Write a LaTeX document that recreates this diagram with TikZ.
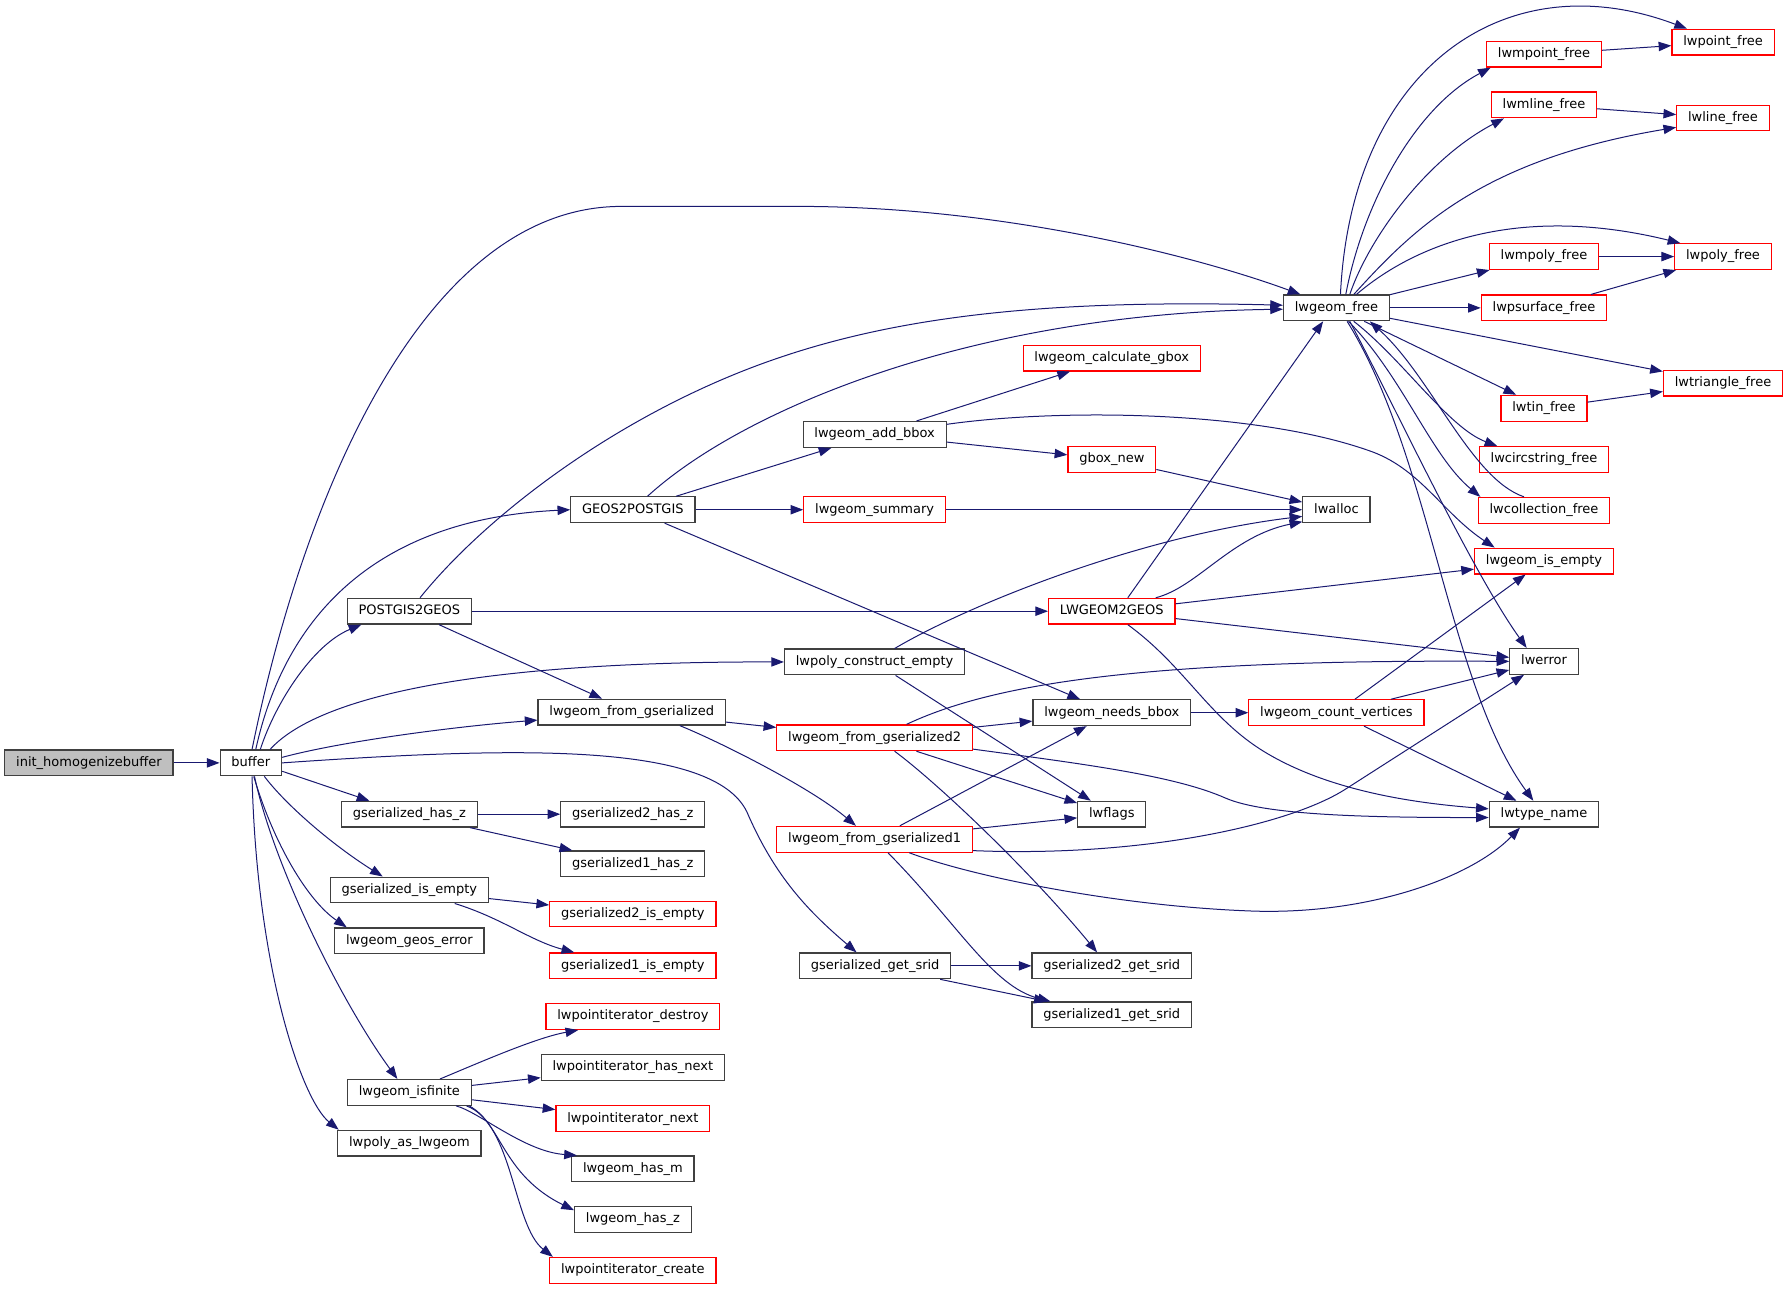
\documentclass[tikz,border=0pt]{standalone}
\usepackage{fontspec}
\setmainfont{DejaVu Sans}
\usetikzlibrary{arrows.meta}
\definecolor{callblue}{HTML}{191970}
\definecolor{boxgrey}{HTML}{404040}
\definecolor{boxred}{HTML}{FF0000}
\definecolor{rootfill}{HTML}{BFBFBF}
\begin{document}
\begin{tikzpicture}[x=0.8552pt,y=-0.8552pt,
    fn/.style={draw=boxgrey,line width=0.9pt,fill=white,inner xsep=8.5pt,inner ysep=0pt,minimum height=19.3pt,text height=7.3pt,text depth=2.2pt,font=\fontsize{9.75}{11}\selectfont},
    fnred/.style={fn,draw=boxred},
    fnroot/.style={fn,fill=rootfill},
    call/.style={draw=callblue,line width=0.75pt,-{Triangle[length=9.5pt,width=7pt]}}]
    \useasboundingbox (0,0) rectangle (1568,1130.4);
    \node[fnroot] (init) at (78,669) {init\_homogenizebuffer};
    \node[fn] (buffer) at (220,669) {buffer};
    \node[fn] (p2g) at (359,536) {POSTGIS2GEOS};
    \node[fn] (ghz) at (359,714) {gserialized\_has\_z};
    \node[fn] (gie) at (359,780.5) {gserialized\_is\_empty};
    \node[fn] (lge) at (359,825) {lwgeom\_geos\_error};
    \node[fn] (lif) at (359,958) {lwgeom\_isfinite};
    \node[fn] (lpal) at (359,1002.5) {lwpoly\_as\_lwgeom};
    \node[fn] (g2p) at (555,447) {GEOS2POSTGIS};
    \node[fn] (lfg) at (554,624.5) {lwgeom\_from\_gserialized};
    \node[fn] (g2hz) at (555,714) {gserialized2\_has\_z};
    \node[fn] (g1hz) at (555,757.5) {gserialized1\_has\_z};
    \node[fnred] (g2ie) at (555,801.5) {gserialized2\_is\_empty};
    \node[fnred] (g1ie) at (555,847) {gserialized1\_is\_empty};
    \node[fnred] (pid) at (555,891.5) {lwpointiterator\_destroy};
    \node[fn] (phn) at (555,936) {lwpointiterator\_has\_next};
    \node[fnred] (pn) at (555,981) {lwpointiterator\_next};
    \node[fn] (lhm) at (555,1025) {lwgeom\_has\_m};
    \node[fn] (lhz) at (555,1069.5) {lwgeom\_has\_z};
    \node[fnred] (pc) at (555,1114) {lwpointiterator\_create};
    \node[fn] (lab) at (767,381) {lwgeom\_add\_bbox};
    \node[fnred] (lsum) at (767,447) {lwgeom\_summary};
    \node[fn] (lpce) at (767,580.5) {lwpoly\_construct\_empty};
    \node[fnred] (lfg2) at (767,647) {lwgeom\_from\_gserialized2};
    \node[fnred] (lfg1) at (767,736) {lwgeom\_from\_gserialized1};
    \node[fn] (ggs) at (767.5,847) {gserialized\_get\_srid};
    \node[fnred] (lcg) at (975,314) {lwgeom\_calculate\_gbox};
    \node[fnred] (gbn) at (975,403) {gbox\_new};
    \node[fnred] (l2g) at (975,536) {LWGEOM2GEOS};
    \node[fn] (lnb) at (975,625) {lwgeom\_needs\_bbox};
    \node[fn] (lwf) at (975,714) {lwflags};
    \node[fn] (g2gs) at (975,847) {gserialized2\_get\_srid};
    \node[fn] (g1gs) at (975,890) {gserialized1\_get\_srid};
    \node[fn] (lfree) at (1172,270) {lwgeom\_free};
    \node[fn] (lalloc) at (1172,447) {lwalloc};
    \node[fnred] (lcv) at (1172,625) {lwgeom\_count\_vertices};
    \node[fnred] (mpf) at (1354,47.5) {lwmpoint\_free};
    \node[fnred] (mlf) at (1354,92) {lwmline\_free};
    \node[fnred] (mpyf) at (1354,225) {lwmpoly\_free};
    \node[fnred] (psf) at (1354,270) {lwpsurface\_free};
    \node[fnred] (tinf) at (1354,358) {lwtin\_free};
    \node[fnred] (csf) at (1354,403) {lwcircstring\_free};
    \node[fnred] (colf) at (1354,447.5) {lwcollection\_free};
    \node[fnred] (lie) at (1354,492) {lwgeom\_is\_empty};
    \node[fn] (lerr) at (1354,580) {lwerror};
    \node[fn] (ltn) at (1354,714) {lwtype\_name};
    \node[fnred] (ptf) at (1511,37) {lwpoint\_free};
    \node[fnred] (lnf) at (1511,103.5) {lwline\_free};
    \node[fnred] (pyf) at (1511,225) {lwpoly\_free};
    \node[fnred] (trf) at (1511,336) {lwtriangle\_free};
    \draw[call] (init) -- (buffer);
    \draw[call] (buffer.85) .. controls (265,440) and (370,181) .. (545,181) -- (700,181) .. controls (880,181) and (1050,225) .. ([xshift=-27pt]lfree.north);
    \draw[call] (buffer.70) .. controls (250,540) and (330,455) .. (g2p.west);
    \draw[call] (buffer.55) .. controls (242,615) and (275,565) .. ([xshift=-36pt]p2g.south);
    \draw[call] (buffer.35) .. controls (275,615) and (400,580) .. (lpce.west);
    \draw[call] (buffer.10) .. controls (300,650) and (400,637) .. ([yshift=-6pt]lfg.west);
    \draw[call] (buffer.east) .. controls (450,655) and (625,650) .. (655,712) .. controls (680,770) and (710,800) .. ([xshift=-14pt]ggs.north);
    \draw[call] (buffer.-15) -- ([xshift=-30pt]ghz.north);
    \draw[call] (buffer.-45) .. controls (250,705) and (290,740) .. ([xshift=-20pt]gie.north);
    \draw[call] (buffer.-78) .. controls (240,740) and (270,790) .. ([xshift=-47pt]lge.north);
    \draw[call] (buffer.-75) .. controls (240,760) and (300,880) .. ([xshift=-9pt]lif.north);
    \draw[call] (buffer.-85) .. controls (225,850) and (265,965) .. ([xshift=-53pt]lpal.north);
    \draw[call] ([xshift=8pt]p2g.north) .. controls (420,460) and (520,380) .. (640,330) .. controls (760,280) and (900,262) .. ([yshift=2pt]lfree.west);
    \draw[call] (p2g) -- (l2g);
    \draw[call] (p2g) -- (lfg);
    \draw[call] ([xshift=11pt]g2p.north) .. controls (650,360) and (850,275) .. ([yshift=-1pt]lfree.west);
    \draw[call] (g2p) -- (lab);
    \draw[call] (g2p) -- (lsum);
    \draw[call] (g2p) -- (lnb);
    \draw[call] (lab) -- (lcg);
    \draw[call] (lab) -- (gbn);
    \draw[call] (lab.8) .. controls (930,358) and (1100,360) .. (1200,395) .. controls (1245,410) and (1265,450) .. ([xshift=-37pt]lie.north);
    \draw[call] (lsum) -- (lalloc);
    \draw[call] (gbn) -- (lalloc);
    \draw[call] ([xshift=15pt]lpce.north) .. controls (850,530) and (1000,470) .. ([yshift=-5pt]lalloc.west);
    \draw[call] (lpce) -- (lwf);
    \draw[call] (lfg) -- (lfg2);
    \draw[call] ([xshift=36pt]lfg.south) .. controls (630,650) and (710,690) .. ([xshift=-14pt]lfg1.north);
    \draw[call] (lfg2) -- (lnb);
    \draw[call] (lfg2) -- (lwf);
    \draw[call] ([xshift=24pt]lfg2.north) .. controls (870,600) and (1000,578) .. (lerr.west);
    \draw[call] ([yshift=-8.5pt]lfg2.east) .. controls (950,670) and (1030,680) .. (1075,700) .. controls (1110,715) and (1200,717) .. ([yshift=-2.5pt]ltn.west);
    \draw[call] ([xshift=15pt]lfg2.south) .. controls (820,685) and (900,760) .. ([xshift=-11pt]g2gs.north);
    \draw[call] (lfg1) -- (lnb);
    \draw[call] (lfg1) -- (lwf);
    \draw[call] ([yshift=-8.5pt]lfg1.east) .. controls (1000,752) and (1130,724) .. (1180,692) -- ([xshift=-15pt]lerr.south);
    \draw[call] ([xshift=26pt]lfg1.south) .. controls (850,768) and (980,795) .. (1100,799) .. controls (1200,802) and (1290,770) .. ([xshift=-18pt]ltn.south);
    \draw[call] ([xshift=10pt]lfg1.south) .. controls (840,810) and (870,865) .. ([xshift=-46pt]g1gs.north);
    \draw[call] (ggs) -- (g2gs);
    \draw[call] (ggs) -- (g1gs);
    \draw[call] (ghz) -- (g2hz);
    \draw[call] (ghz) -- (g1hz);
    \draw[call] (gie) -- (g2ie);
    \draw[call] ([xshift=34pt]gie.south) .. controls (440,805) and (465,825) .. ([xshift=-44pt]g1ie.north);
    \draw[call] ([xshift=23pt]lif.north) .. controls (420,932) and (470,910) .. ([xshift=-41pt]pid.south);
    \draw[call] (lif) -- (phn);
    \draw[call] (lif) -- (pn);
    \draw[call] ([xshift=35pt]lif.south) .. controls (420,975) and (460,1010) .. ([xshift=-42pt]lhm.north);
    \draw[call] ([xshift=-2pt]lif.south east) .. controls (440,985) and (440,1030) .. ([yshift=7pt]lhz.west);
    \draw[call] ([xshift=-4pt]lif.south east) .. controls (450,985) and (450,1075) .. ([xshift=-60pt]pc.north);
    \draw[call] ([xshift=12pt]l2g.north) -- ([xshift=-10pt]lfree.south);
    \draw[call] ([xshift=33pt]l2g.north) .. controls (1050,515) and (1080,470) .. ([yshift=-9pt]lalloc.west);
    \draw[call] (l2g) -- (lie);
    \draw[call] (l2g) -- (lerr);
    \draw[call] ([xshift=12pt]l2g.south) .. controls (1040,585) and (1060,630) .. (1110,660) .. controls (1170,696) and (1250,705) .. ([yshift=4pt]ltn.west);
    \draw[call] (lnb) -- (lcv);
    \draw[call] (lcv) -- (lie);
    \draw[call] (lcv) -- (lerr);
    \draw[call] (lcv) -- (ltn);
    \draw[call] ([xshift=3pt]lfree.north) .. controls (1185,60) and (1320,-35) .. ([xshift=-27pt]ptf.north);
    \draw[call] ([xshift=7pt]lfree.north) .. controls (1195,180) and (1240,95) .. ([xshift=-40pt]mpf.south);
    \draw[call] ([xshift=10pt]lfree.north) .. controls (1200,210) and (1250,140) .. ([xshift=-30pt]mlf.south);
    \draw[call] ([xshift=13pt]lfree.north) .. controls (1240,200) and (1300,140) .. ([yshift=-7pt]lnf.west);
    \draw[call] ([xshift=15pt]lfree.north) .. controls (1240,215) and (1330,178) .. ([xshift=-32pt]pyf.north);
    \draw[call] (lfree) -- (mpyf);
    \draw[call] (lfree) -- (psf);
    \draw[call] (lfree) -- (trf);
    \draw[call] (lfree) -- (tinf);
    \draw[call] ([xshift=13pt]lfree.south) .. controls (1230,315) and (1270,375) .. ([xshift=-35pt]csf.north);
    \draw[call] ([xshift=9pt]lfree.south) .. controls (1230,330) and (1255,400) .. ([xshift=2pt]colf.north west);
    \draw[call] ([xshift=-15pt]colf.north) .. controls (1290,420) and (1255,330) .. ([xshift=25pt]lfree.south);
    \draw[call] ([xshift=10pt]lfree.south) .. controls (1220,350) and (1290,500) .. ([xshift=-13pt]lerr.north);
    \draw[call] ([xshift=8pt]lfree.south) .. controls (1255,400) and (1270,600) .. ([xshift=-8pt]ltn.north);
    \draw[call] (mpf) -- (ptf);
    \draw[call] (mlf) -- (lnf);
    \draw[call] (mpyf) -- (pyf);
    \draw[call] (psf) -- (pyf);
    \draw[call] (tinf) -- (trf);
\end{tikzpicture}
\end{document}
